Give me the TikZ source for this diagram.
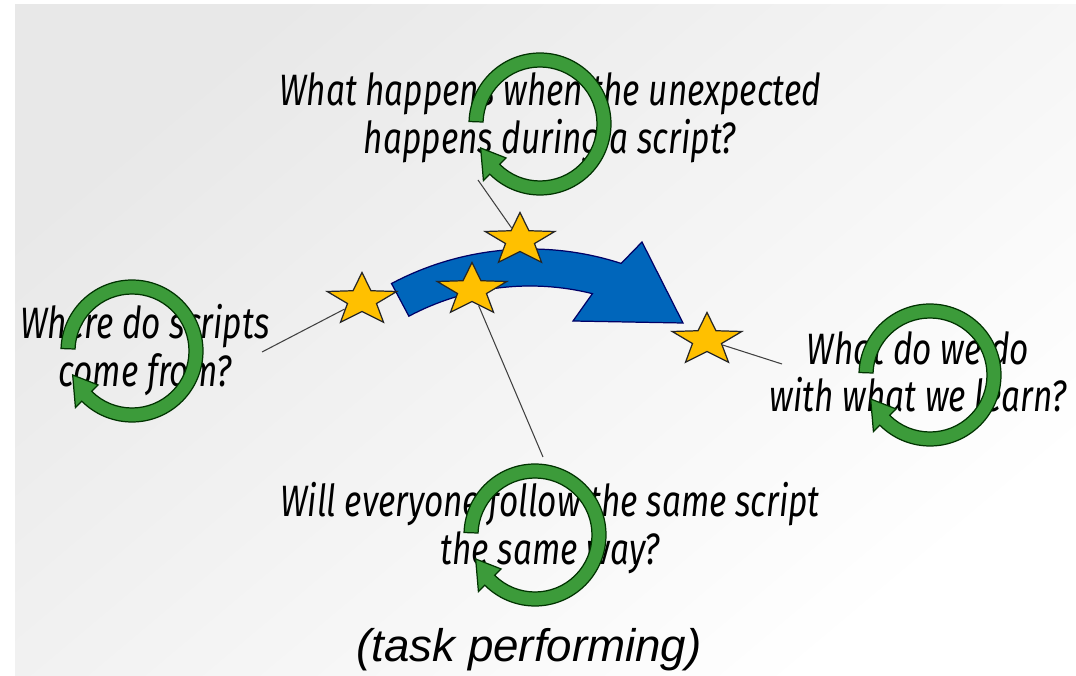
\documentclass[tikz,border=0pt]{standalone}
\usepackage{fontspec}
\usetikzlibrary{shapes.geometric}
\newfontfamily\handfont{Fira Sans Italic}[FakeStretch=0.76]
\newfontfamily\labelfont{Liberation Sans Italic}
\definecolor{arrowblue}{RGB}{0,102,187}
\definecolor{stargold}{RGB}{255,192,0}
\definecolor{loopgreen}{RGB}{60,155,58}
\tikzset{
  turnloop/.pic={
    \filldraw[fill=loopgreen,draw=black!80!green,line width=0.7pt]
      (178:71) arc[start angle=178,end angle=-135,radius=71]
      -- (-135:80) -- (-158:64) -- (-135:48) -- (-135:57)
      arc[start angle=-135,end angle=178,radius=57] -- cycle;
  }
}
\begin{document}
\begin{tikzpicture}[x=0.2mm,y=0.2mm,
  question/.style={font=\handfont\fontsize{25}{27}\selectfont,align=center,inner sep=0pt},
  goldstar/.style={star,star points=5,star point ratio=2.4,minimum size=11mm,inner sep=0pt,
    xscale=1.33,fill=stargold,draw=black!85,line width=0.7pt}]
  \useasboundingbox (0,0) rectangle (1076,676);
  \shade[top color=black!9,bottom color=white,shading angle=40] (15,0) rectangle (1076,671);

  \coordinate (bend) at (530,132);
  \filldraw[fill=arrowblue,draw=black!60!blue,line width=0.7pt]
    ([shift={(118:295)}]bend) arc[start angle=118,end angle=72,radius=295]
    -- (642,434) -- (683,353) -- (573,355)
    -- ([shift={(76:258)}]bend) arc[start angle=76,end angle=118,radius=258] -- cycle;

  \node[goldstar] (s1) at (362,376) {};
  \node[goldstar] (s2) at (520,436) {};
  \node[goldstar] (s3) at (472,386) {};
  \node[goldstar] (s4) at (707,336) {};

  \node[question] (qtop) at (550,558) {What happens when the unexpected\\happens during a script?};
  \node[question] (qleft) at (145,326) {Where do scripts\\come from?};
  \node[question] (qright) at (918,304) {What do we do\\with what we learn?};
  \node[question] (qbottom) at (550,148) {Will everyone follow the same script\\the same way?};
  \node[font=\labelfont\fontsize{26}{28}\selectfont] (caption) at (529,26) {(task performing)};

  \coordinate (qtop foot) at (478,496);
  \coordinate (qleft tip) at (262,324);
  \coordinate (qright tip) at (782,312);
  \coordinate (qbottom head) at (543,219);
  \draw[black!75,line width=0.6pt] (qtop foot) -- (s2);
  \draw[black!75,line width=0.6pt] (qleft tip) -- (s1);
  \draw[black!75,line width=0.6pt] (s3) -- (qbottom head);
  \draw[black!75,line width=0.6pt] (s4) -- (qright tip);

  \pic at (540,552) {turnloop};
  \pic at (132,325) {turnloop};
  \pic at (930,301) {turnloop};
  \pic at (535,141) {turnloop};
\end{tikzpicture}
\end{document}
